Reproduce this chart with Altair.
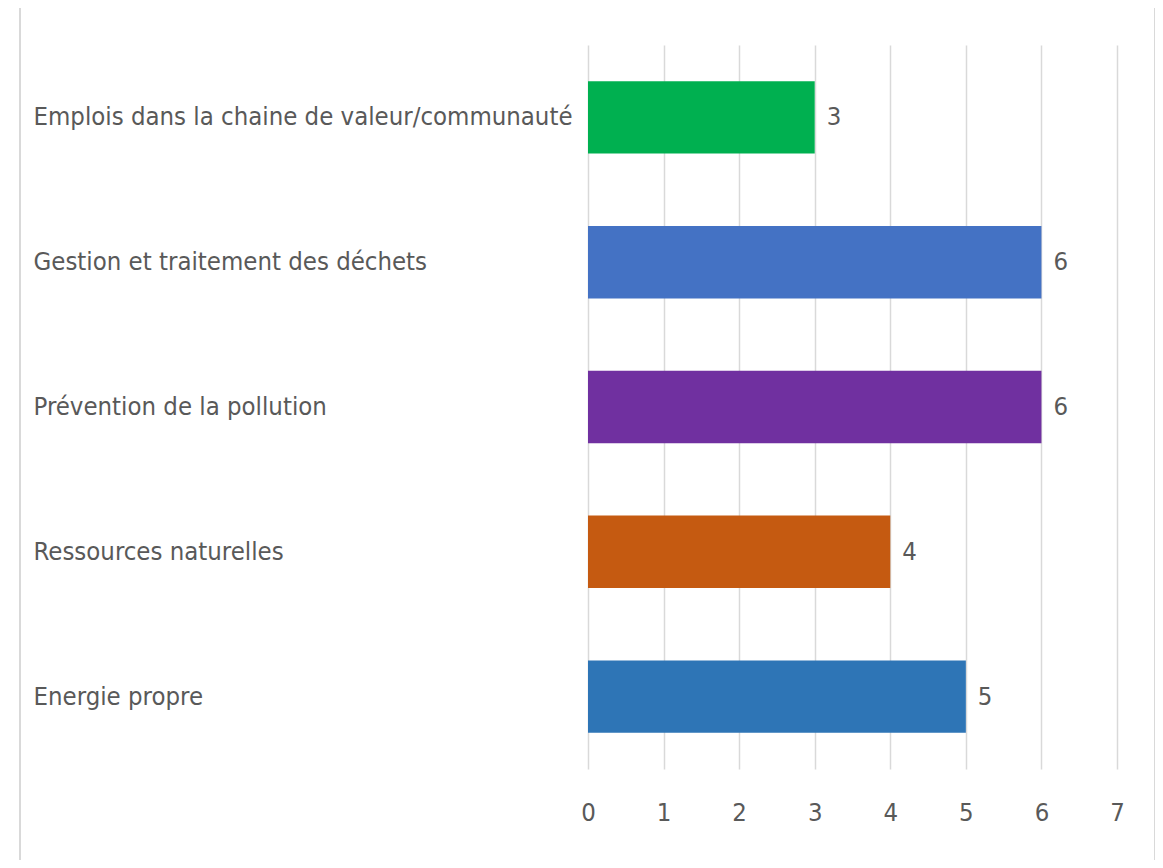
import altair as alt
import pandas as pd

categories = [
    "Emplois dans la chaine de valeur/communauté",
    "Gestion et traitement des déchets",
    "Prévention de la pollution",
    "Ressources naturelles",
    "Energie propre",
]
values = [3, 6, 6, 4, 5]
colors = ["#00B050", "#4472C4", "#7030A0", "#C55A11", "#2E75B6"]

df = pd.DataFrame({"cat": categories, "val": values, "col": colors})

FONT = "DejaVu Sans Condensed, Liberation Sans, sans-serif"
FS = 25.5
TXT = "#595959"
W, H = 529, 724

y_enc = alt.Y(
    "cat:N",
    sort=categories,
    title=None,
    scale=alt.Scale(paddingInner=0.5, paddingOuter=0.25),
    axis=alt.Axis(
        labelAlign="left",
        labelPadding=555,
        labelBaseline="middle",
        ticks=False,
        tickSize=0,
        domain=False,
        labelFont=FONT,
        labelFontSize=FS,
        labelColor=TXT,
        labelLimit=700,
    ),
)
x_enc = alt.X(
    "val:Q",
    title=None,
    scale=alt.Scale(domain=[0, 7], nice=False),
    axis=alt.Axis(
        values=[0, 1, 2, 3, 4, 5, 6, 7],
        format="d",
        grid=True,
        gridColor="#D9D9D9",
        gridWidth=1.5,
        domain=False,
        ticks=False,
        tickSize=0,
        labelPadding=31,
        labelFont=FONT,
        labelFontSize=FS,
        labelColor=TXT,
        labelFlush=False,
    ),
)

frame = alt.Chart(df).mark_rect(fill=None, stroke="#D9D9D9", strokeWidth=2).encode(
    x=alt.value(20 - 588), x2=alt.value(1155 - 588),
    y=alt.value(4 - 45), y2=alt.value(900),
)

bars = alt.Chart(df).mark_bar().encode(
    x=x_enc,
    y=y_enc,
    color=alt.Color("col:N", scale=None, legend=None),
)

labels = alt.Chart(df).mark_text(
    align="left", baseline="middle", dx=12, font=FONT, fontSize=FS, color=TXT
).encode(
    x=alt.X("val:Q"),
    y=alt.Y("cat:N", sort=categories),
    text=alt.Text("val:Q"),
)

chart = alt.layer(frame, bars, labels).properties(
    width=W,
    height=H,
    background="white",
    padding={"left": 580, "top": 37, "right": 38, "bottom": 91},
    autosize=alt.AutoSizeParams(type="none"),
).configure_view(strokeWidth=0, stroke="transparent")

chart.save("out.html", embed_options={"renderer": "svg", "actions": False})
